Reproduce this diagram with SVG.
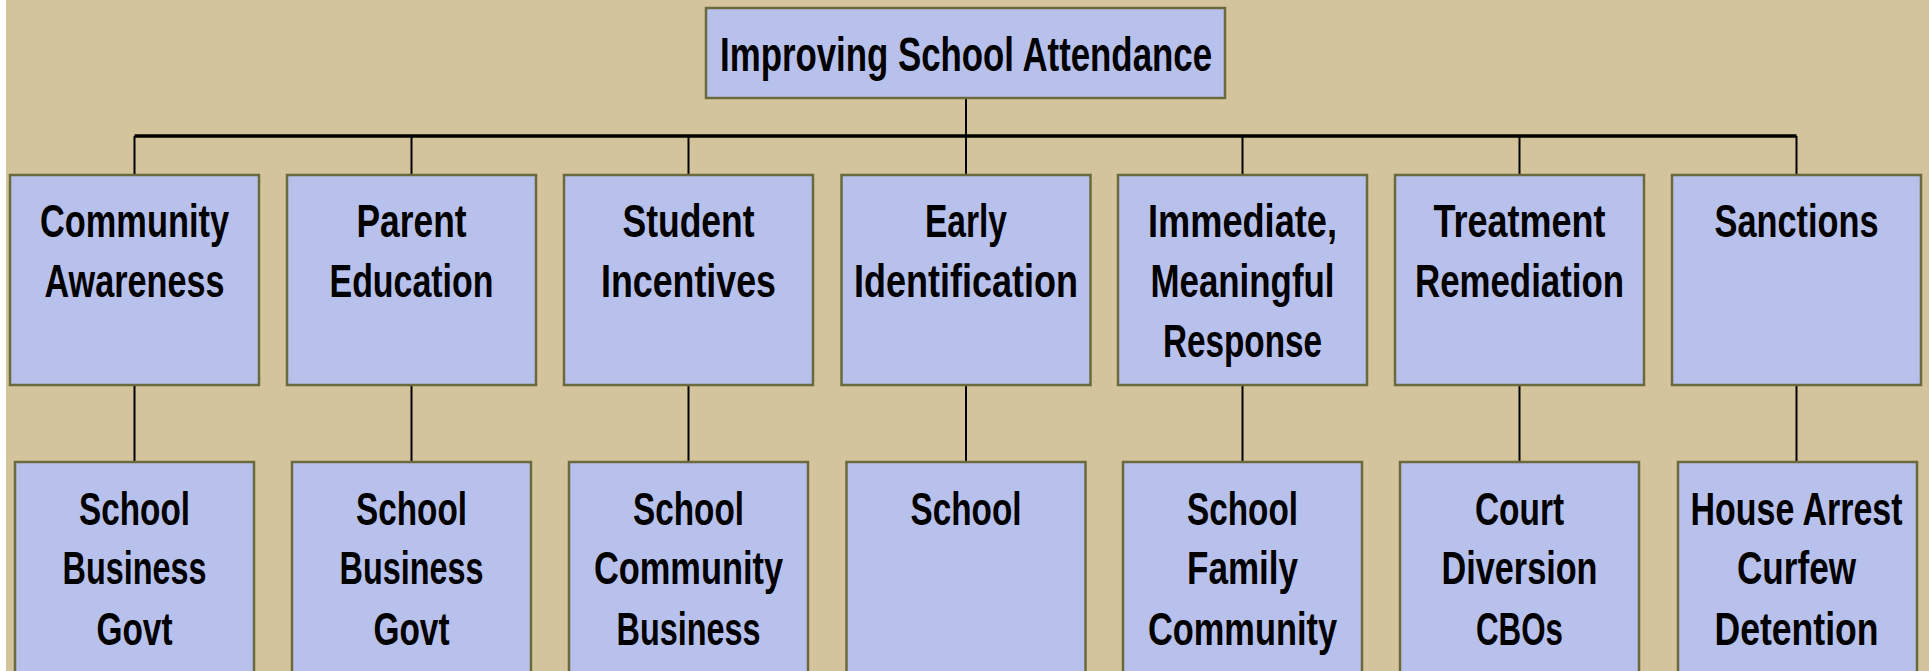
<svg xmlns="http://www.w3.org/2000/svg" width="1929" height="671" viewBox="0 0 1929 671">
<style>
.bg{fill:#D4C49B}
.box{fill:#B8C1EB;stroke:#6B6A3C;stroke-width:2.5}
.t{font-family:"Liberation Sans Narrow","Liberation Sans",Arial,sans-serif;font-weight:bold;font-size:46px;fill:#000;text-anchor:middle}
.title{font-size:48px}
.bus{stroke:#000;stroke-width:3.5;fill:none}
.ln{stroke:#000;stroke-width:2;fill:none}
</style>
<rect x="0" y="0" width="1929" height="671" fill="#FFFFFF"/>
<rect class="bg" x="6" y="0" width="1923" height="671"/>
<g id="connectors">
<line class="ln" x1="966" y1="97" x2="966" y2="136"/>
<line class="bus" x1="134.5" y1="136" x2="1796.5" y2="136"/>
<line class="ln" x1="134.5" y1="136" x2="134.5" y2="175"/>
<line class="ln" x1="411.5" y1="136" x2="411.5" y2="175"/>
<line class="ln" x1="688.5" y1="136" x2="688.5" y2="175"/>
<line class="ln" x1="966" y1="136" x2="966" y2="175"/>
<line class="ln" x1="1242.5" y1="136" x2="1242.5" y2="175"/>
<line class="ln" x1="1519.5" y1="136" x2="1519.5" y2="175"/>
<line class="ln" x1="1796.5" y1="136" x2="1796.5" y2="175"/>
<line class="ln" x1="134.5" y1="385" x2="134.5" y2="462"/>
<line class="ln" x1="411.5" y1="385" x2="411.5" y2="462"/>
<line class="ln" x1="688.5" y1="385" x2="688.5" y2="462"/>
<line class="ln" x1="966" y1="385" x2="966" y2="462"/>
<line class="ln" x1="1242.5" y1="385" x2="1242.5" y2="462"/>
<line class="ln" x1="1519.5" y1="385" x2="1519.5" y2="462"/>
<line class="ln" x1="1796.5" y1="385" x2="1796.5" y2="462"/>
</g>
<g id="root">
<rect class="box" x="706" y="8" width="519" height="90"/>
<text class="t title" x="966" y="71" textLength="492" lengthAdjust="spacingAndGlyphs">Improving School Attendance</text>
</g>
<g id="n1">
<rect class="box" x="10" y="175" width="249" height="210"/>
<text class="t" x="134.5" y="237" textLength="189" lengthAdjust="spacingAndGlyphs">Community</text>
<text class="t" x="134.5" y="297" textLength="180" lengthAdjust="spacingAndGlyphs">Awareness</text>
</g>
<g id="n2">
<rect class="box" x="287" y="175" width="249" height="210"/>
<text class="t" x="411.5" y="237" textLength="110" lengthAdjust="spacingAndGlyphs">Parent</text>
<text class="t" x="411.5" y="297" textLength="164" lengthAdjust="spacingAndGlyphs">Education</text>
</g>
<g id="n3">
<rect class="box" x="564" y="175" width="249" height="210"/>
<text class="t" x="688.5" y="237" textLength="132" lengthAdjust="spacingAndGlyphs">Student</text>
<text class="t" x="688.5" y="297" textLength="175" lengthAdjust="spacingAndGlyphs">Incentives</text>
</g>
<g id="n4">
<rect class="box" x="841.5" y="175" width="249" height="210"/>
<text class="t" x="966" y="237" textLength="82" lengthAdjust="spacingAndGlyphs">Early</text>
<text class="t" x="966" y="297" textLength="224" lengthAdjust="spacingAndGlyphs">Identification</text>
</g>
<g id="n5">
<rect class="box" x="1118" y="175" width="249" height="210"/>
<text class="t" x="1242.5" y="237" textLength="189" lengthAdjust="spacingAndGlyphs">Immediate,</text>
<text class="t" x="1242.5" y="297" textLength="184" lengthAdjust="spacingAndGlyphs">Meaningful</text>
<text class="t" x="1242.5" y="357" textLength="159" lengthAdjust="spacingAndGlyphs">Response</text>
</g>
<g id="n6">
<rect class="box" x="1395" y="175" width="249" height="210"/>
<text class="t" x="1519.5" y="237" textLength="172" lengthAdjust="spacingAndGlyphs">Treatment</text>
<text class="t" x="1519.5" y="297" textLength="209" lengthAdjust="spacingAndGlyphs">Remediation</text>
</g>
<g id="n7">
<rect class="box" x="1672" y="175" width="249" height="210"/>
<text class="t" x="1796.5" y="237" textLength="164" lengthAdjust="spacingAndGlyphs">Sanctions</text>
</g>
<g id="m1">
<rect class="box" x="15" y="462" width="239" height="230"/>
<text class="t" x="134.5" y="525" textLength="111" lengthAdjust="spacingAndGlyphs">School</text>
<text class="t" x="134.5" y="584" textLength="144" lengthAdjust="spacingAndGlyphs">Business</text>
<text class="t" x="134.5" y="645" textLength="76" lengthAdjust="spacingAndGlyphs">Govt</text>
</g>
<g id="m2">
<rect class="box" x="292" y="462" width="239" height="230"/>
<text class="t" x="411.5" y="525" textLength="111" lengthAdjust="spacingAndGlyphs">School</text>
<text class="t" x="411.5" y="584" textLength="144" lengthAdjust="spacingAndGlyphs">Business</text>
<text class="t" x="411.5" y="645" textLength="76" lengthAdjust="spacingAndGlyphs">Govt</text>
</g>
<g id="m3">
<rect class="box" x="569" y="462" width="239" height="230"/>
<text class="t" x="688.5" y="525" textLength="111" lengthAdjust="spacingAndGlyphs">School</text>
<text class="t" x="688.5" y="584" textLength="189" lengthAdjust="spacingAndGlyphs">Community</text>
<text class="t" x="688.5" y="645" textLength="144" lengthAdjust="spacingAndGlyphs">Business</text>
</g>
<g id="m4">
<rect class="box" x="846.5" y="462" width="239" height="230"/>
<text class="t" x="966" y="525" textLength="111" lengthAdjust="spacingAndGlyphs">School</text>
</g>
<g id="m5">
<rect class="box" x="1123" y="462" width="239" height="230"/>
<text class="t" x="1242.5" y="525" textLength="111" lengthAdjust="spacingAndGlyphs">School</text>
<text class="t" x="1242.5" y="584" textLength="111" lengthAdjust="spacingAndGlyphs">Family</text>
<text class="t" x="1242.5" y="645" textLength="189" lengthAdjust="spacingAndGlyphs">Community</text>
</g>
<g id="m6">
<rect class="box" x="1400" y="462" width="239" height="230"/>
<text class="t" x="1519.5" y="525" textLength="89" lengthAdjust="spacingAndGlyphs">Court</text>
<text class="t" x="1519.5" y="584" textLength="156" lengthAdjust="spacingAndGlyphs">Diversion</text>
<text class="t" x="1519.5" y="645" textLength="87" lengthAdjust="spacingAndGlyphs">CBOs</text>
</g>
<g id="m7">
<rect class="box" x="1678" y="462" width="239" height="230"/>
<text class="t" x="1796.5" y="525" textLength="212" lengthAdjust="spacingAndGlyphs">House Arrest</text>
<text class="t" x="1796.5" y="584" textLength="119" lengthAdjust="spacingAndGlyphs">Curfew</text>
<text class="t" x="1796.5" y="645" textLength="164" lengthAdjust="spacingAndGlyphs">Detention</text>
</g>
</svg>
